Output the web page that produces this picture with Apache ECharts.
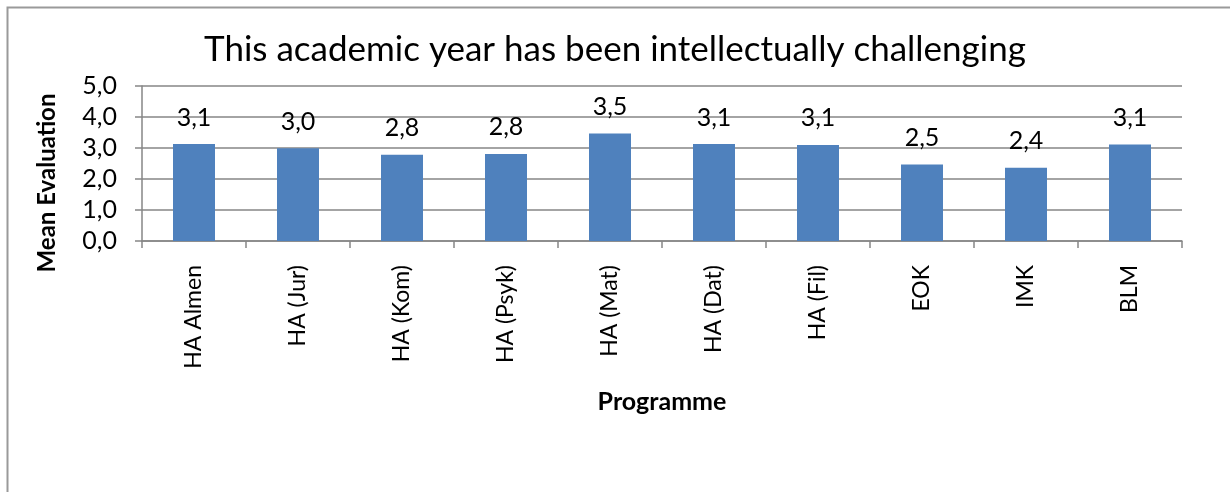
<!DOCTYPE html>
<html>
<head>
<meta charset="utf-8">
<script src="https://cdn.jsdelivr.net/npm/echarts@6/dist/echarts.min.js"></script>
<style>html,body{margin:0;padding:0;background:#fff}#c{width:1230px;height:492px}</style>
</head>
<body>
<div id="c"></div>
<script>
const titleText = 'This academic year has been intellectually challenging';
const categories = ['HA Almen', 'HA (Jur)', 'HA (Kom)', 'HA (Psyk)', 'HA (Mat)', 'HA (Dat)', 'HA (Fil)', 'EOK', 'IMK', 'BLM'];
const meanValues = [3.13, 2.99, 2.78, 2.81, 3.47, 3.13, 3.10, 2.47, 2.36, 3.11];
const yAxisName = 'Mean Evaluation';
const xAxisName = 'Programme';

const fmt = v => Number(v).toFixed(1).replace('.', ',');
const FONT = 'Lato, "Noto Sans", sans-serif';
const chart = echarts.init(document.getElementById('c'));
chart.setOption({
  animation: false,
  textStyle: { fontFamily: FONT },
  graphic: [{
    type: 'rect', left: 5, top: 5, shape: { x: 0, y: 0, width: 1240, height: 500 },
    style: { fill: 'none', stroke: '#9a9a9a', lineWidth: 2 }, z: -1
  }, {
    type: 'text', x: 47, y: 183, rotation: Math.PI / 2,
    style: { text: yAxisName, fontFamily: FONT, fontSize: 24, fontWeight: 'bold', fill: '#000', align: 'center', verticalAlign: 'middle' }
  }],
  title: {
    text: titleText, left: 'center', top: 27,
    textStyle: { fontFamily: FONT, fontSize: 35, fontWeight: 'normal', color: '#000' }
  },
  grid: { left: 142, right: 48, top: 86, bottom: 251 },
  xAxis: {
    type: 'category', data: categories,
    name: xAxisName, nameLocation: 'middle', nameGap: 148,
    nameTextStyle: { fontFamily: FONT, fontSize: 25, fontWeight: 'bold', color: '#000' },
    axisLine: { lineStyle: { color: '#868686', width: 1.5 } },
    axisTick: { show: true, alignWithLabel: false, length: 7, lineStyle: { color: '#868686', width: 1.5 } },
    axisLabel: { rotate: 90, margin: 24, fontSize: 23, color: '#000', fontFamily: FONT }
  },
  yAxis: {
    type: 'value', min: 0, max: 5, interval: 1,
    axisLine: { show: true, lineStyle: { color: '#868686', width: 1.5 } },
    axisTick: { show: true, length: 7, lineStyle: { color: '#868686', width: 1.5 } },
    axisLabel: { formatter: fmt, fontSize: 25, color: '#000', margin: 25, fontFamily: FONT },
    splitLine: { lineStyle: { color: '#868686', width: 1.5 } }
  },
  series: [{
    type: 'bar', data: meanValues, barWidth: 42,
    itemStyle: { color: '#4F81BD' },
    label: { show: true, position: 'top', distance: 14, formatter: p => fmt(p.value), fontSize: 25, color: '#000', fontFamily: FONT }
  }]
});
</script>
</body>
</html>
